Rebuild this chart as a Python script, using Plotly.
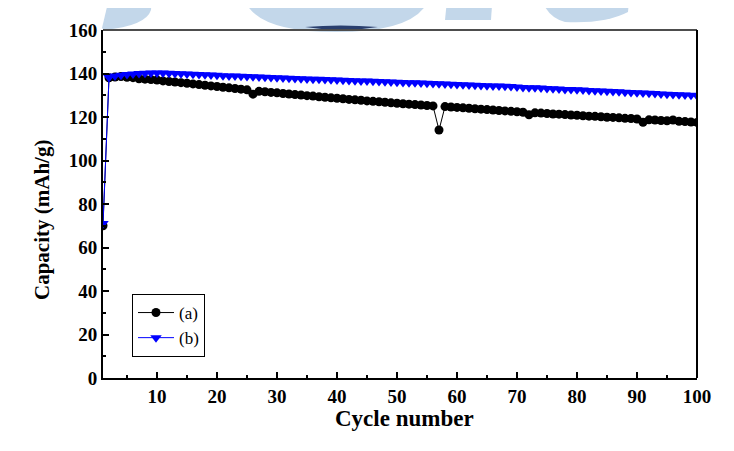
import plotly.graph_objects as go

cycles = list(range(1, 101))

capacity_a = [
    70.0, 138.0, 138.4, 138.6, 138.3, 138.1, 137.6, 137.4, 137.2, 137.0,
    136.6, 136.3, 136.1, 135.8, 135.5, 135.2, 134.9, 134.6, 134.3, 134.0,
    133.7, 133.4, 133.1, 132.8, 132.5, 130.5, 131.8, 131.6, 131.3, 131.1,
    130.8, 130.6, 130.3, 130.1, 129.8, 129.6, 129.3, 129.1, 128.8, 128.6,
    128.4, 128.1, 127.9, 127.7, 127.4, 127.2, 127.0, 126.8, 126.5, 126.3,
    126.1, 125.9, 125.7, 125.5, 125.3, 125.1, 114.0, 124.8, 124.6, 124.4,
    124.2, 124.0, 123.8, 123.6, 123.4, 123.2, 123.0, 122.8, 122.6, 122.4,
    122.2, 121.0, 121.9, 121.8, 121.6, 121.4, 121.3, 121.1, 120.9, 120.8,
    120.6, 120.4, 120.3, 120.1, 119.9, 119.8, 119.6, 119.4, 119.3, 119.1,
    117.6, 118.7, 118.6, 118.4, 118.3, 118.6, 118.0, 117.9, 117.7, 117.5,
]

capacity_b = [
    71.0, 138.2, 138.8, 139.2, 139.5, 139.8, 140.0, 140.1, 140.2, 140.2,
    140.2, 140.1, 140.0, 139.9, 139.8, 139.6, 139.5, 139.4, 139.3, 139.2,
    139.0, 138.9, 138.8, 138.7, 138.6, 138.5, 138.4, 138.3, 138.2, 138.0,
    137.9, 137.8, 137.7, 137.6, 137.5, 137.4, 137.3, 137.2, 137.1, 137.0,
    136.9, 136.8, 136.7, 136.6, 136.5, 136.4, 136.3, 136.2, 136.1, 136.0,
    135.9, 135.8, 135.7, 135.6, 135.5, 135.4, 135.3, 135.2, 135.1, 135.0,
    134.8, 134.7, 134.6, 134.5, 134.4, 134.3, 134.2, 134.1, 134.0, 133.8,
    133.6, 133.5, 133.4, 133.3, 133.1, 133.0, 132.9, 132.7, 132.6, 132.5,
    132.4, 132.2, 132.1, 132.0, 131.8, 131.7, 131.6, 131.4, 131.3, 131.2,
    131.0, 130.9, 130.8, 130.6, 130.5, 130.4, 130.2, 130.1, 130.0, 129.8,
]

series_names = ["(a)", "(b)"]
x_ticks = [10, 20, 30, 40, 50, 60, 70, 80, 90, 100]
y_ticks = [0, 20, 40, 60, 80, 100, 120, 140, 160]

SERIF = "Liberation Serif"

fig = go.Figure()
fig.add_trace(go.Scatter(
    x=cycles, y=capacity_a, name=series_names[0], mode="lines+markers",
    line=dict(color="black", width=1),
    marker=dict(symbol="circle", size=9, color="black"),
))
fig.add_trace(go.Scatter(
    x=cycles, y=capacity_b, name=series_names[1], mode="lines+markers",
    line=dict(color="#0000ff", width=1),
    marker=dict(symbol="triangle-down", size=10, color="#0000ff"),
))

# the page body adds an 8px margin; the figure is sized to fit the window
OFF = 8
W, H = 734 - 2 * OFF, 451 - 2 * OFF
# plot area in page pixels
L, R, T, B = 103, 697, 30, 378
Lf, Rf, Tf, Bf = L - OFF, R - OFF, T - OFF, B - OFF


def px(xp):
    return (xp - L) / (R - L)


def py(yp):
    return (B - yp) / (B - T)


# watermark shapes (light blue) above the plot
wm = "#c3d7ea"
shapes = [
    dict(type="path", xref="paper", yref="paper",
         path=f"M {px(111)},{py(-10)} L {px(152)},{py(-10)} L {px(151)},{py(10)} "
              f"Q {px(146)},{py(26)} {px(104)},{py(30)} L {px(102)},{py(28)} Z",
         fillcolor=wm, line=dict(width=0), layer="below"),
    dict(type="path", xref="paper", yref="paper",
         path=f"M {px(242)},{py(-10)} Q {px(246)},{py(32)} {px(336)},{py(32)} "
              f"Q {px(427)},{py(32)} {px(431)},{py(-10)} Z",
         fillcolor=wm, line=dict(width=0), layer="below"),
    dict(type="path", xref="paper", yref="paper",
         path=f"M {px(305)},{py(27)} Q {px(340)},{py(24)} {px(378)},{py(27)} "
              f"Q {px(342)},{py(33)} {px(305)},{py(27)} Z",
         fillcolor="#2a3f6e", line=dict(width=0), layer="below"),
    dict(type="path", xref="paper", yref="paper",
         path=f"M {px(448)},{py(-10)} L {px(493)},{py(-10)} L {px(491)},{py(20)} "
              f"L {px(445)},{py(20)} Z",
         fillcolor=wm, line=dict(width=0), layer="below"),
    dict(type="path", xref="paper", yref="paper",
         path=f"M {px(540)},{py(-10)} L {px(630)},{py(-10)} L {px(628)},{py(12)} "
              f"Q {px(605)},{py(24)} {px(565)},{py(22)} Q {px(543)},{py(16)} {px(540)},{py(-10)} Z",
         fillcolor=wm, line=dict(width=0), layer="below"),
    # plot frame
    dict(type="line", xref="paper", yref="paper", x0=0, x1=1, y0=1, y1=1,
         line=dict(color="#4d4d4d", width=2)),
    dict(type="line", xref="paper", yref="paper", x0=1, x1=1, y0=0, y1=1,
         line=dict(color="black", width=2)),
]

fig.update_layout(
    width=W, height=H,
    margin=dict(l=Lf, r=W - Rf, t=Tf, b=H - Bf, pad=0),
    paper_bgcolor="white", plot_bgcolor="rgba(0,0,0,0)",
    showlegend=True,
    legend=dict(
        x=px(132), y=py(294), xanchor="left", yanchor="top",
        bordercolor="black", borderwidth=1, bgcolor="white",
        font=dict(family=SERIF, size=17, color="black"),
        tracegroupgap=0, itemwidth=36,
    ),
    shapes=shapes,
    annotations=[
        dict(text="Cycle number", xref="paper", yref="paper", x=0.5 * (px(330) + px(478)),
             y=py(418), xanchor="center", yanchor="middle", showarrow=False,
             font=dict(family=SERIF, size=23, color="black", weight="bold")),
        dict(text="Capacity (mAh/g)", xref="paper", yref="paper", x=px(42),
             y=py(220), xanchor="center", yanchor="middle", showarrow=False, textangle=-90,
             font=dict(family=SERIF, size=21, color="black", weight="bold")),
    ],
)

fig.update_xaxes(
    range=[1, 100], tickvals=x_ticks, ticktext=[str(v) for v in x_ticks],
    ticks="inside", ticklen=6, tickwidth=2, tickcolor="black",
    minor=dict(dtick=5, tick0=0, ticks="inside", ticklen=3, tickwidth=1.5, tickcolor="black"),
    showline=True, linecolor="black", linewidth=2, showgrid=False, zeroline=False,
    tickfont=dict(family=SERIF, size=19, color="black", weight="bold"),
)
fig.update_yaxes(
    range=[0, 160], tickvals=y_ticks, ticktext=[str(v) for v in y_ticks],
    ticks="inside", ticklen=6, tickwidth=2, tickcolor="black",
    minor=dict(dtick=10, tick0=0, ticks="inside", ticklen=3, tickwidth=1.5, tickcolor="black"),
    showline=True, linecolor="black", linewidth=2, showgrid=False, zeroline=False,
    tickfont=dict(family=SERIF, size=19, color="black", weight="bold"),
)

fig.write_html("out.html")
